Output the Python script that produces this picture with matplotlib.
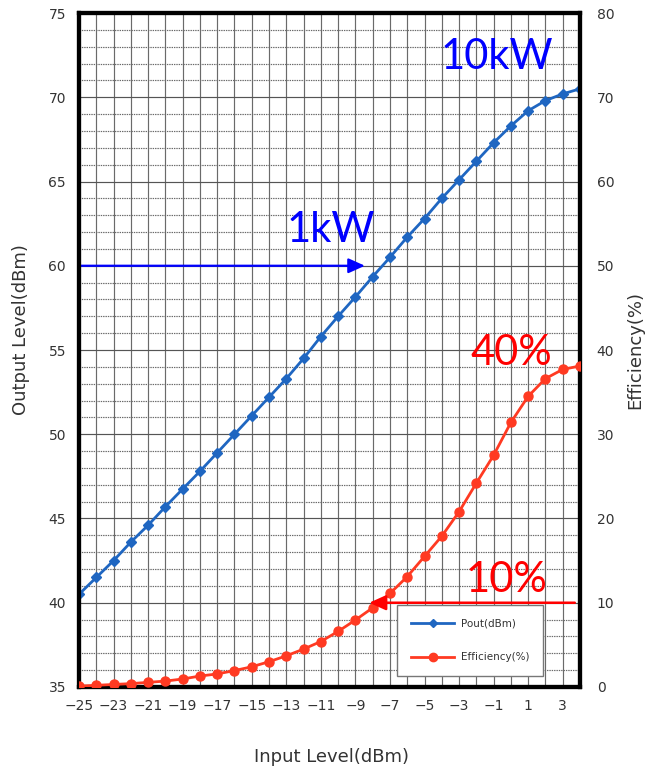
import matplotlib
matplotlib.use("Agg")
import matplotlib.pyplot as plt
from matplotlib.lines import Line2D

# ---- data ----
input_level = [-25, -24, -23, -22, -21, -20, -19, -18, -17, -16, -15, -14, -13, -12, -11,
               -10, -9, -8, -7, -6, -5, -4, -3, -2, -1, 0, 1, 2, 3, 4]
pout_dbm = [40.5, 41.5, 42.5, 43.6, 44.6, 45.7, 46.75, 47.8, 48.9, 50.0, 51.1, 52.2, 53.3, 54.5, 55.8,
            57.0, 58.15, 59.35, 60.5, 61.7, 62.8, 64.0, 65.1, 66.2, 67.3, 68.3, 69.2, 69.8, 70.2, 70.5]
efficiency = [0.1, 0.2, 0.3, 0.4, 0.55, 0.7, 0.95, 1.3, 1.55, 1.95, 2.4, 3.0, 3.7, 4.5, 5.4,
              6.6, 7.95, 9.4, 11.1, 13.1, 15.5, 17.9, 20.8, 24.2, 27.5, 31.4, 34.5, 36.6, 37.7, 38.1]
x_ticks = list(range(-25, 4, 2))
left_ticks = [35, 40, 45, 50, 55, 60, 65, 70, 75]
right_ticks = [0, 10, 20, 30, 40, 50, 60, 70, 80]

BLUE = "#1f66c1"
RED = "#ff3a22"
TXT = "#333333"

fig = plt.figure(figsize=(6.46, 7.70), dpi=100)
ax = fig.add_axes([0.1223, 0.1078, 0.7755, 0.8753])
ax2 = ax.twinx()

ax.set_xlim(-25, 4)
ax.set_ylim(35, 75)
ax2.set_ylim(0, 80)

# grid
for xv in range(-24, 4):
    ax.axvline(xv, color="#6a6a6a", lw=0.85, zorder=0)
for yv in range(36, 75):
    if yv % 5 == 0:
        ax.axhline(yv, color="#555555", lw=0.85, zorder=0)
    else:
        ax.axhline(yv, color="#6a6a6a", lw=0.85, ls=(0, (1.2, 0.8)), zorder=0)

ax.plot(input_level, pout_dbm, color=BLUE, lw=2, marker="D", ms=5, zorder=3)
ax2.plot(input_level, efficiency, color=RED, lw=2, marker="o", ms=6.5, zorder=3)

ax.set_xticks(x_ticks)
ax.set_yticks(left_ticks)
ax2.set_yticks(right_ticks)
for a in (ax, ax2):
    a.tick_params(length=0, labelsize=10, labelcolor=TXT, pad=8)
    for s in a.spines.values():
        s.set_linewidth(3)
        s.set_color("black")
ax.tick_params(axis="y", pad=22)
ax2.tick_params(axis="y", pad=12)
ax.tick_params(axis="x", pad=9)
for lab in ax.get_yticklabels():
    lab.set_horizontalalignment("left")

fig.text(331 / 646, 1 - 757 / 770, "Input Level(dBm)", fontsize=13, color=TXT, ha="center", va="center")
fig.text(21 / 646, 1 - 330 / 770, "Output Level(dBm)", fontsize=13, color=TXT, ha="center", va="center",
         rotation=90)
fig.text(635 / 646, 1 - 350 / 770, "Efficiency(%)", fontsize=13, color=TXT, ha="center", va="center",
         rotation=90)

# arrows
ax.annotate("", xy=(-8.45, 60), xytext=(-25, 60),
            arrowprops=dict(arrowstyle="-|>,head_length=1.0,head_width=0.45", color="#0000ff", lw=1.6,
                            shrinkA=0, shrinkB=0), zorder=4)
ax2.annotate("", xy=(-8.2, 10), xytext=(3.7, 10),
             arrowprops=dict(arrowstyle="-|>,head_length=1.0,head_width=0.45", color="#ff0000", lw=1.8,
                             shrinkA=0, shrinkB=0), zorder=4)

# annotations
ax.text(-4.1, 71.7, "10kW", color="#0000ff", fontsize=30, family="Lato", va="baseline", zorder=5)
ax.text(-13.0, 61.4, "1kW", color="#0000ff", fontsize=30, family="Lato", va="baseline", zorder=5)
ax.text(-2.36, 54.1, "40%", color="#ff0000", fontsize=30, family="Lato", va="baseline", zorder=5)
ax.text(-2.6, 40.64, "10%", color="#ff0000", fontsize=30, family="Lato", va="baseline", zorder=5)

# legend
handles = [Line2D([], [], color=BLUE, lw=2, marker="D", ms=4),
           Line2D([], [], color=RED, lw=2, marker="o", ms=6)]
leg = ax2.legend(handles, ["Pout(dBm)", "Efficiency(%)"], loc="upper left",
                 bbox_to_anchor=(0.635, 0.1217), fontsize=7.5, handlelength=4.2,
                 labelspacing=2.3, borderpad=1.3, handletextpad=0.6, borderaxespad=0,
                 fancybox=False, framealpha=1, edgecolor="#777777")
leg.get_frame().set_linewidth(1)
for t in leg.get_texts():
    t.set_color(TXT)

fig.savefig("out.png", dpi=100)
